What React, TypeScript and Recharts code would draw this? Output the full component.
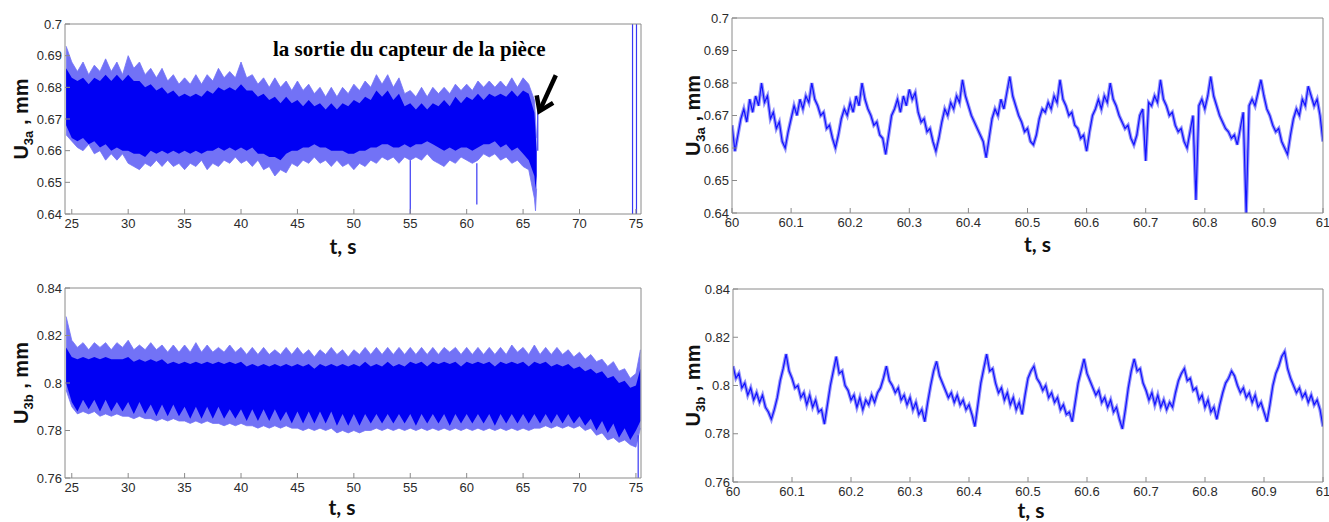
import React from 'react';
import { ComposedChart, Area, Line, XAxis, YAxis, Label, ReferenceLine } from 'recharts';

// long records: envelope of the signal, sampled every 0.5 s from 24.5 s
const LONG_T0 = 24.5;
const LONG_DT = 0.5;

// U3a, 24.5 .. 66.0 s
const TL_OUTER_HI = [
  0.693, 0.688, 0.685, 0.688, 0.684, 0.687, 0.685, 0.689, 0.685, 0.688,
  0.684, 0.690, 0.686, 0.688, 0.684, 0.686, 0.683, 0.686, 0.682, 0.684,
  0.681, 0.683, 0.681, 0.684, 0.681, 0.684, 0.682, 0.686, 0.683, 0.685,
  0.683, 0.688, 0.683, 0.684, 0.681, 0.683, 0.680, 0.683, 0.680, 0.682,
  0.679, 0.682, 0.679, 0.681, 0.678, 0.680, 0.677, 0.680, 0.677, 0.680,
  0.678, 0.681, 0.679, 0.682, 0.680, 0.684, 0.681, 0.684, 0.680, 0.683,
  0.678, 0.679, 0.677, 0.680, 0.677, 0.680, 0.678, 0.680, 0.678, 0.681,
  0.679, 0.681, 0.679, 0.682, 0.680, 0.682, 0.680, 0.682, 0.680, 0.683,
  0.680, 0.683, 0.681, 0.676,
];
const TL_INNER_HI = [
  0.686, 0.683, 0.682, 0.683, 0.681, 0.683, 0.682, 0.684, 0.682, 0.684,
  0.682, 0.684, 0.682, 0.682, 0.680, 0.681, 0.679, 0.680, 0.678, 0.679,
  0.677, 0.678, 0.677, 0.678, 0.677, 0.679, 0.678, 0.680, 0.679, 0.680,
  0.679, 0.681, 0.679, 0.679, 0.677, 0.678, 0.676, 0.677, 0.675, 0.677,
  0.675, 0.676, 0.674, 0.676, 0.674, 0.675, 0.673, 0.675, 0.673, 0.675,
  0.674, 0.676, 0.675, 0.677, 0.676, 0.679, 0.677, 0.679, 0.676, 0.678,
  0.674, 0.675, 0.673, 0.675, 0.673, 0.675, 0.674, 0.676, 0.674, 0.677,
  0.675, 0.677, 0.676, 0.678, 0.676, 0.678, 0.677, 0.678, 0.677, 0.679,
  0.677, 0.679, 0.678, 0.672,
];
const TL_INNER_LO = [
  0.668, 0.664, 0.663, 0.664, 0.662, 0.663, 0.661, 0.662, 0.660, 0.661,
  0.660, 0.660, 0.659, 0.659, 0.658, 0.660, 0.659, 0.660, 0.659, 0.660,
  0.659, 0.660, 0.659, 0.660, 0.659, 0.660, 0.660, 0.661, 0.660, 0.661,
  0.660, 0.661, 0.660, 0.661, 0.659, 0.659, 0.658, 0.658, 0.657, 0.659,
  0.660, 0.660, 0.661, 0.661, 0.662, 0.661, 0.661, 0.660, 0.660, 0.660,
  0.659, 0.659, 0.660, 0.660, 0.661, 0.661, 0.662, 0.662, 0.661, 0.661,
  0.662, 0.661, 0.662, 0.662, 0.663, 0.662, 0.661, 0.660, 0.661, 0.660,
  0.661, 0.661, 0.660, 0.661, 0.662, 0.662, 0.663, 0.661, 0.662, 0.660,
  0.661, 0.659, 0.657, 0.652,
];
const TL_OUTER_LO = [
  0.665, 0.663, 0.661, 0.660, 0.662, 0.659, 0.660, 0.657, 0.659, 0.657,
  0.659, 0.656, 0.655, 0.654, 0.656, 0.655, 0.657, 0.655, 0.657, 0.655,
  0.656, 0.654, 0.656, 0.655, 0.657, 0.654, 0.656, 0.655, 0.657, 0.656,
  0.658, 0.656, 0.657, 0.655, 0.657, 0.654, 0.655, 0.652, 0.654, 0.653,
  0.656, 0.655, 0.657, 0.656, 0.658, 0.656, 0.657, 0.655, 0.657, 0.655,
  0.656, 0.654, 0.656, 0.655, 0.657, 0.656, 0.658, 0.657, 0.658, 0.656,
  0.658, 0.657, 0.658, 0.657, 0.659, 0.657, 0.656, 0.655, 0.657, 0.656,
  0.658, 0.657, 0.656, 0.657, 0.659, 0.658, 0.659, 0.657, 0.658, 0.656,
  0.657, 0.655, 0.654, 0.645,
];
// the sensor leaves the part: last samples of the band
const TL_TAIL_T = [66.1, 66.2];
const TL_TAIL_OUTER_HI = [0.670, 0.664];
const TL_TAIL_INNER_HI = [0.666, 0.660];
const TL_TAIL_INNER_LO = [0.648, 0.652];
const TL_TAIL_OUTER_LO = [0.641, 0.648];
// isolated vertical strokes: time, low, high
const TL_SPIKE_T = [55.0, 60.9, 66.3, 74.7, 75.05];
const TL_SPIKE_LO = [0.640, 0.643, 0.660, 0.640, 0.640];
const TL_SPIKE_HI = [0.657, 0.656, 0.674, 0.700, 0.700];

// U3b, 24.5 .. 75.0 s
const BL_OUTER_HI = [
  0.828, 0.818, 0.815, 0.817, 0.814, 0.817, 0.815, 0.817, 0.814, 0.817,
  0.815, 0.818, 0.814, 0.816, 0.814, 0.817, 0.814, 0.816, 0.813, 0.816,
  0.813, 0.816, 0.813, 0.817, 0.813, 0.816, 0.813, 0.815, 0.813, 0.816,
  0.813, 0.815, 0.812, 0.815, 0.812, 0.815, 0.812, 0.814, 0.812, 0.815,
  0.812, 0.815, 0.812, 0.814, 0.811, 0.814, 0.812, 0.815, 0.812, 0.814,
  0.811, 0.814, 0.812, 0.815, 0.812, 0.815, 0.812, 0.815, 0.812, 0.815,
  0.812, 0.815, 0.812, 0.815, 0.812, 0.815, 0.812, 0.815, 0.813, 0.815,
  0.812, 0.815, 0.812, 0.815, 0.812, 0.815, 0.812, 0.815, 0.812, 0.816,
  0.813, 0.815, 0.812, 0.816, 0.812, 0.815, 0.812, 0.815, 0.812, 0.814,
  0.811, 0.813, 0.810, 0.812, 0.809, 0.810, 0.807, 0.809, 0.805, 0.806,
  0.802, 0.804,
];
const BL_INNER_HI = [
  0.815, 0.811, 0.810, 0.811, 0.810, 0.811, 0.810, 0.811, 0.810, 0.810,
  0.810, 0.811, 0.809, 0.810, 0.809, 0.810, 0.809, 0.810, 0.808, 0.809,
  0.808, 0.809, 0.808, 0.809, 0.808, 0.809, 0.808, 0.809, 0.808, 0.809,
  0.808, 0.809, 0.807, 0.808, 0.807, 0.808, 0.807, 0.808, 0.807, 0.808,
  0.807, 0.808, 0.807, 0.808, 0.806, 0.808, 0.807, 0.808, 0.807, 0.808,
  0.807, 0.808, 0.807, 0.809, 0.807, 0.808, 0.807, 0.809, 0.807, 0.808,
  0.807, 0.809, 0.808, 0.809, 0.807, 0.809, 0.808, 0.809, 0.808, 0.809,
  0.807, 0.809, 0.808, 0.809, 0.808, 0.809, 0.807, 0.809, 0.808, 0.809,
  0.808, 0.809, 0.807, 0.809, 0.808, 0.809, 0.807, 0.808, 0.807, 0.808,
  0.806, 0.807, 0.805, 0.806, 0.804, 0.805, 0.802, 0.803, 0.800, 0.801,
  0.798, 0.799,
];
const BL_INNER_LO = [
  0.800, 0.792, 0.788, 0.793, 0.789, 0.793, 0.788, 0.793, 0.788, 0.792,
  0.788, 0.792, 0.787, 0.792, 0.787, 0.791, 0.786, 0.791, 0.786, 0.791,
  0.786, 0.790, 0.785, 0.790, 0.785, 0.790, 0.785, 0.790, 0.785, 0.789,
  0.785, 0.789, 0.784, 0.789, 0.784, 0.789, 0.784, 0.789, 0.784, 0.788,
  0.783, 0.788, 0.783, 0.788, 0.783, 0.788, 0.783, 0.788, 0.782, 0.787,
  0.782, 0.787, 0.782, 0.787, 0.783, 0.787, 0.783, 0.787, 0.783, 0.787,
  0.783, 0.787, 0.782, 0.787, 0.783, 0.787, 0.783, 0.787, 0.782, 0.787,
  0.783, 0.787, 0.783, 0.787, 0.783, 0.787, 0.782, 0.787, 0.783, 0.787,
  0.783, 0.787, 0.783, 0.787, 0.783, 0.787, 0.783, 0.787, 0.783, 0.787,
  0.783, 0.786, 0.782, 0.785, 0.780, 0.784, 0.779, 0.783, 0.777, 0.781,
  0.776, 0.780,
];
const BL_OUTER_LO = [
  0.797, 0.790, 0.787, 0.788, 0.787, 0.788, 0.786, 0.787, 0.786, 0.787,
  0.786, 0.786, 0.785, 0.786, 0.785, 0.785, 0.784, 0.785, 0.784, 0.785,
  0.784, 0.784, 0.783, 0.784, 0.783, 0.784, 0.783, 0.783, 0.782, 0.783,
  0.782, 0.783, 0.782, 0.782, 0.781, 0.782, 0.781, 0.782, 0.781, 0.782,
  0.781, 0.781, 0.780, 0.781, 0.780, 0.781, 0.780, 0.781, 0.779, 0.780,
  0.779, 0.780, 0.779, 0.780, 0.780, 0.781, 0.780, 0.781, 0.780, 0.781,
  0.780, 0.781, 0.780, 0.781, 0.780, 0.781, 0.780, 0.781, 0.780, 0.781,
  0.780, 0.781, 0.780, 0.781, 0.780, 0.781, 0.780, 0.781, 0.780, 0.781,
  0.780, 0.781, 0.780, 0.781, 0.781, 0.782, 0.781, 0.782, 0.781, 0.782,
  0.781, 0.782, 0.780, 0.781, 0.778, 0.779, 0.776, 0.777, 0.775, 0.776,
  0.774, 0.773,
];
const BL_TAIL_T = [75.4];
const BL_TAIL_OUTER_HI = [0.814];
const BL_TAIL_INNER_HI = [0.806];
const BL_TAIL_INNER_LO = [0.784];
const BL_TAIL_OUTER_LO = [0.781];
const BL_SPIKE_T = [75.2];
const BL_SPIKE_LO = [0.760];
const BL_SPIKE_HI = [0.778];

// zoom on 60 .. 61 s, one sample every 5 ms
const ZOOM_T0 = 60;
const ZOOM_DT = 0.005;
const TR_U3A = [
  0.667, 0.659, 0.664, 0.669, 0.672, 0.668, 0.675, 0.671, 0.676, 0.673,
  0.680, 0.674, 0.676, 0.669, 0.671, 0.666, 0.668, 0.662, 0.660, 0.665,
  0.669, 0.673, 0.670, 0.675, 0.672, 0.676, 0.674, 0.680, 0.675, 0.673,
  0.670, 0.671, 0.666, 0.667, 0.663, 0.660, 0.664, 0.669, 0.672, 0.670,
  0.674, 0.671, 0.676, 0.673, 0.680, 0.675, 0.672, 0.670, 0.667, 0.668,
  0.664, 0.663, 0.658, 0.664, 0.670, 0.672, 0.675, 0.671, 0.676, 0.673,
  0.678, 0.675, 0.677, 0.671, 0.668, 0.669, 0.665, 0.666, 0.662, 0.659,
  0.663, 0.668, 0.672, 0.670, 0.674, 0.672, 0.676, 0.674, 0.681, 0.676,
  0.673, 0.670, 0.668, 0.666, 0.664, 0.662, 0.657, 0.663, 0.669, 0.672,
  0.670, 0.675, 0.672, 0.677, 0.682, 0.676, 0.673, 0.670, 0.668, 0.665,
  0.666, 0.662, 0.661, 0.664, 0.669, 0.672, 0.671, 0.674, 0.672, 0.676,
  0.674, 0.681, 0.675, 0.673, 0.670, 0.671, 0.667, 0.666, 0.663, 0.664,
  0.659, 0.665, 0.670, 0.672, 0.675, 0.672, 0.676, 0.674, 0.680, 0.675,
  0.673, 0.670, 0.668, 0.666, 0.667, 0.663, 0.661, 0.664, 0.670, 0.672,
  0.656, 0.674, 0.673, 0.676, 0.674, 0.681, 0.675, 0.673, 0.670, 0.671,
  0.667, 0.665, 0.666, 0.662, 0.660, 0.665, 0.670, 0.644, 0.673, 0.675,
  0.672, 0.676, 0.682, 0.676, 0.673, 0.670, 0.668, 0.666, 0.665, 0.663,
  0.664, 0.661, 0.666, 0.671, 0.640, 0.673, 0.675, 0.673, 0.677, 0.681,
  0.676, 0.672, 0.670, 0.667, 0.665, 0.666, 0.662, 0.660, 0.658, 0.664,
  0.669, 0.672, 0.670, 0.675, 0.673, 0.679, 0.676, 0.673, 0.675, 0.670,
  0.662,
];
const BR_U3B = [
  0.808, 0.803, 0.805, 0.799, 0.801, 0.796, 0.799, 0.794, 0.797, 0.793,
  0.796, 0.791, 0.789, 0.786, 0.790, 0.795, 0.802, 0.807, 0.813, 0.806,
  0.803, 0.799, 0.800, 0.795, 0.797, 0.792, 0.796, 0.791, 0.794, 0.789,
  0.790, 0.784, 0.792, 0.800, 0.806, 0.812, 0.805, 0.806, 0.800, 0.798,
  0.794, 0.796, 0.791, 0.795, 0.790, 0.794, 0.792, 0.796, 0.793, 0.797,
  0.799, 0.803, 0.808, 0.802, 0.800, 0.797, 0.799, 0.794, 0.796, 0.792,
  0.795, 0.790, 0.793, 0.788, 0.790, 0.785, 0.793, 0.800, 0.806, 0.810,
  0.804, 0.801, 0.798, 0.795, 0.797, 0.793, 0.796, 0.792, 0.794, 0.790,
  0.792, 0.788, 0.783, 0.792, 0.801, 0.807, 0.813, 0.806, 0.807, 0.801,
  0.797, 0.799, 0.794, 0.797, 0.792, 0.795, 0.790, 0.793, 0.788, 0.796,
  0.803, 0.806, 0.808, 0.803, 0.801, 0.798, 0.800, 0.795, 0.797, 0.793,
  0.795, 0.790, 0.792, 0.788, 0.789, 0.785, 0.793, 0.801, 0.806, 0.811,
  0.805, 0.802, 0.799, 0.796, 0.798, 0.793, 0.795, 0.791, 0.794, 0.789,
  0.791, 0.786, 0.782, 0.790, 0.799, 0.806, 0.811, 0.806, 0.807, 0.801,
  0.798, 0.794, 0.797, 0.792, 0.796, 0.791, 0.794, 0.790, 0.793, 0.791,
  0.797, 0.802, 0.805, 0.807, 0.802, 0.803, 0.798, 0.799, 0.794, 0.796,
  0.791, 0.794, 0.789, 0.791, 0.786, 0.792, 0.797, 0.801, 0.803, 0.806,
  0.804, 0.800, 0.797, 0.799, 0.795, 0.797, 0.793, 0.796, 0.791, 0.793,
  0.789, 0.785, 0.792, 0.800, 0.805, 0.808, 0.812, 0.814, 0.807, 0.803,
  0.800, 0.797, 0.799, 0.795, 0.797, 0.793, 0.796, 0.792, 0.794, 0.790,
  0.783,
];

const LONG_TICKS = [25, 30, 35, 40, 45, 50, 55, 60, 65, 70, 75];
const ZOOM_TICKS = [60, 60.1, 60.2, 60.3, 60.4, 60.5, 60.6, 60.7, 60.8, 60.9, 61];
const U3A_TICKS = [0.64, 0.65, 0.66, 0.67, 0.68, 0.69, 0.7];
const U3B_TICKS = [0.76, 0.78, 0.8, 0.82, 0.84];

const AXIS = '#8a8a8a';
const LIGHT = '#7272f6';
const DARK = '#0000f4';
const TRACE = '#1212ff';
const FUZZ = '#9292fa';
const SANS = '"Liberation Sans", Arial, sans-serif';

const round = (v: number) => Math.round(v * 1000) / 1000;

function bandRows(
  hiO: number[], hiI: number[], loI: number[], loO: number[],
  tailT: number[], tHiO: number[], tHiI: number[], tLoI: number[], tLoO: number[],
) {
  const rows = hiO.map((_, i) => ({
    t: round(LONG_T0 + i * LONG_DT),
    outer: [loO[i], hiO[i]],
    inner: [loI[i], hiI[i]],
  }));
  tailT.forEach((t, i) => rows.push({ t, outer: [tLoO[i], tHiO[i]], inner: [tLoI[i], tHiI[i]] }));
  return rows;
}

const tlRows = bandRows(TL_OUTER_HI, TL_INNER_HI, TL_INNER_LO, TL_OUTER_LO,
  TL_TAIL_T, TL_TAIL_OUTER_HI, TL_TAIL_INNER_HI, TL_TAIL_INNER_LO, TL_TAIL_OUTER_LO);
const blRows = bandRows(BL_OUTER_HI, BL_INNER_HI, BL_INNER_LO, BL_OUTER_LO,
  BL_TAIL_T, BL_TAIL_OUTER_HI, BL_TAIL_INNER_HI, BL_TAIL_INNER_LO, BL_TAIL_OUTER_LO);
const trRows = TR_U3A.map((v, i) => ({ t: round(ZOOM_T0 + i * ZOOM_DT), v }));
const brRows = BR_U3B.map((v, i) => ({ t: round(ZOOM_T0 + i * ZOOM_DT), v }));

function spikeLines(ts: number[], lo: number[], hi: number[], color: string) {
  return ts.map((t, i) => (
    <Line
      key={'spike' + i}
      data={[{ t, v: lo[i] }, { t, v: hi[i] }]}
      dataKey="v"
      stroke={color}
      strokeWidth={1.2}
      dot={false}
      isAnimationActive={false}
    />
  ));
}

// rotated axis title, baseline `dx` px left of the plot's left edge
const yTitle = (sub: string, dx: number) => (props: any) => {
  const vb = props.viewBox;
  const x = vb.x + vb.width - dx;
  const y = vb.y + vb.height / 2;
  return (
    <text x={x} y={y} transform={`rotate(-90, ${x}, ${y})`} textAnchor="middle"
      fontFamily={SANS} fontWeight="bold" fontSize={20} fill="#111">
      <tspan>U</tspan>
      <tspan dy={5} fontSize={13}>{sub}</tspan>
      <tspan dy={-5}> , mm</tspan>
    </text>
  );
};

const xTitle = (dx: number, dy: number) => (props: any) => {
  const vb = props.viewBox;
  return (
    <text x={vb.x + vb.width / 2 + dx} y={vb.y + dy} textAnchor="middle"
      fontFamily='Lato, "Open Sans", sans-serif' fontWeight="bold" fontSize={21} fill="#111">
      t, s
    </text>
  );
};

function renderArrow(p: any) {
  const { x1, y1, x2, y2 } = p;
  const ang = Math.atan2(y2 - y1, x2 - x1) + Math.PI;
  const L = 16;
  const a = ang - 0.6;
  const b = ang + 0.6;
  return (
    <g stroke="#000" strokeWidth={4.5} fill="none" strokeLinecap="butt">
      <line x1={x1} y1={y1} x2={x2} y2={y2} />
      <polyline
        points={`${x2 + L * Math.cos(a)},${y2 + L * Math.sin(a)} ${x2},${y2} ${x2 + L * Math.cos(b)},${y2 + L * Math.sin(b)}`}
      />
    </g>
  );
}

interface PanelProps {
  left: number;
  top: number;
  width: number;
  height: number;
  // space around the plot box: top, right, bottom, left
  box: [number, number, number, number];
  data: any[];
  xDomain: [number, number];
  xTicks: number[];
  yDomain: [number, number];
  yTicks: number[];
  sub: string;
  yTitleDx: number;
  xTitleDx: number;
  xTitleDy: number;
  children: React.ReactNode;
}

function Panel(p: PanelProps) {
  const tickStyle = { fontSize: 13, fill: '#2b2b2b', fontFamily: SANS };
  const [bt, br, bb, bl] = p.box;
  return (
    <div style={{ position: 'absolute', left: p.left, top: p.top }}>
      <ComposedChart width={p.width} height={p.height} data={p.data}
        margin={{ top: 0, right: 0, bottom: 0, left: 0 }}>
        <XAxis dataKey="t" type="number" domain={p.xDomain} ticks={p.xTicks} interval={0}
          allowDataOverflow height={bb} tickSize={-5} tickMargin={10} stroke={AXIS} tick={tickStyle}>
          <Label content={xTitle(p.xTitleDx, p.xTitleDy)} />
        </XAxis>
        <XAxis xAxisId="top" orientation="top" type="number" domain={p.xDomain} ticks={p.xTicks}
          interval={0} allowDataOverflow height={bt} tickSize={-5} stroke={AXIS} tick={false} />
        <YAxis type="number" domain={p.yDomain} ticks={p.yTicks} interval={0} allowDataOverflow
          width={bl} tickSize={-5} tickMargin={8} stroke={AXIS} tick={tickStyle}>
          <Label content={yTitle(p.sub, p.yTitleDx)} />
        </YAxis>
        <YAxis yAxisId="right" orientation="right" type="number" domain={p.yDomain} ticks={p.yTicks}
          interval={0} allowDataOverflow width={br} tickSize={-5} stroke={AXIS} tick={false} />
        {p.children}
      </ComposedChart>
    </div>
  );
}

export default function App() {
  return (
    <div style={{ position: 'absolute', left: 0, top: 0, width: 1329, height: 522, background: '#fff', overflow: 'hidden' }}>
      <Panel left={0} top={0} width={660} height={260} box={[24, 19, 46, 65]}
        data={tlRows} xDomain={[24.4, 75.45]} xTicks={LONG_TICKS} yDomain={[0.64, 0.7]} yTicks={U3A_TICKS}
        sub="3a" yTitleDx={37} xTitleDx={-10} xTitleDy={40}>
        <Area type="linear" dataKey="outer" stroke={LIGHT} strokeWidth={0.8} fill={LIGHT} fillOpacity={1} isAnimationActive={false} />
        <Area type="linear" dataKey="inner" stroke="none" fill={DARK} fillOpacity={1} isAnimationActive={false} />
        {spikeLines(TL_SPIKE_T, TL_SPIKE_LO, TL_SPIKE_HI, '#3838f4')}
        <ReferenceLine segment={[{ x: 67.9, y: 0.6838 }, { x: 66.45, y: 0.6725 }]} shape={renderArrow} />
      </Panel>
      <div style={{
        position: 'absolute', left: 273, top: 37, fontFamily: '"Liberation Serif", "Times New Roman", serif',
        fontWeight: 'bold', fontSize: 21, color: '#000', whiteSpace: 'nowrap',
      }}>
        la sortie du capteur de la pièce
      </div>

      <Panel left={660} top={0} width={669} height={260} box={[18, 6, 47, 72]}
        data={trRows} xDomain={[60, 61]} xTicks={ZOOM_TICKS} yDomain={[0.64, 0.7]} yTicks={U3A_TICKS}
        sub="3a" yTitleDx={32} xTitleDx={10} xTitleDy={39}>
        <Line type="linear" dataKey="v" stroke={FUZZ} strokeWidth={3.5} dot={false} isAnimationActive={false} />
        <Line type="linear" dataKey="v" stroke={TRACE} strokeWidth={1.2} dot={false} isAnimationActive={false} />
      </Panel>

      <Panel left={0} top={260} width={660} height={262} box={[28, 19, 44, 65]}
        data={blRows} xDomain={[24.4, 75.45]} xTicks={LONG_TICKS} yDomain={[0.76, 0.84]} yTicks={U3B_TICKS}
        sub="3b" yTitleDx={37} xTitleDx={-11} xTitleDy={37}>
        <Area type="linear" dataKey="outer" stroke={LIGHT} strokeWidth={0.8} fill={LIGHT} fillOpacity={1} isAnimationActive={false} />
        <Area type="linear" dataKey="inner" stroke="none" fill={DARK} fillOpacity={1} isAnimationActive={false} />
        {spikeLines(BL_SPIKE_T, BL_SPIKE_LO, BL_SPIKE_HI, '#3838f4')}
      </Panel>

      <Panel left={660} top={260} width={669} height={262} box={[29, 6, 40, 73]}
        data={brRows} xDomain={[60, 61]} xTicks={ZOOM_TICKS} yDomain={[0.76, 0.84]} yTicks={U3B_TICKS}
        sub="3b" yTitleDx={33} xTitleDx={3} xTitleDy={36}>
        <Line type="linear" dataKey="v" stroke={FUZZ} strokeWidth={3.5} dot={false} isAnimationActive={false} />
        <Line type="linear" dataKey="v" stroke={TRACE} strokeWidth={1.2} dot={false} isAnimationActive={false} />
      </Panel>
    </div>
  );
}
